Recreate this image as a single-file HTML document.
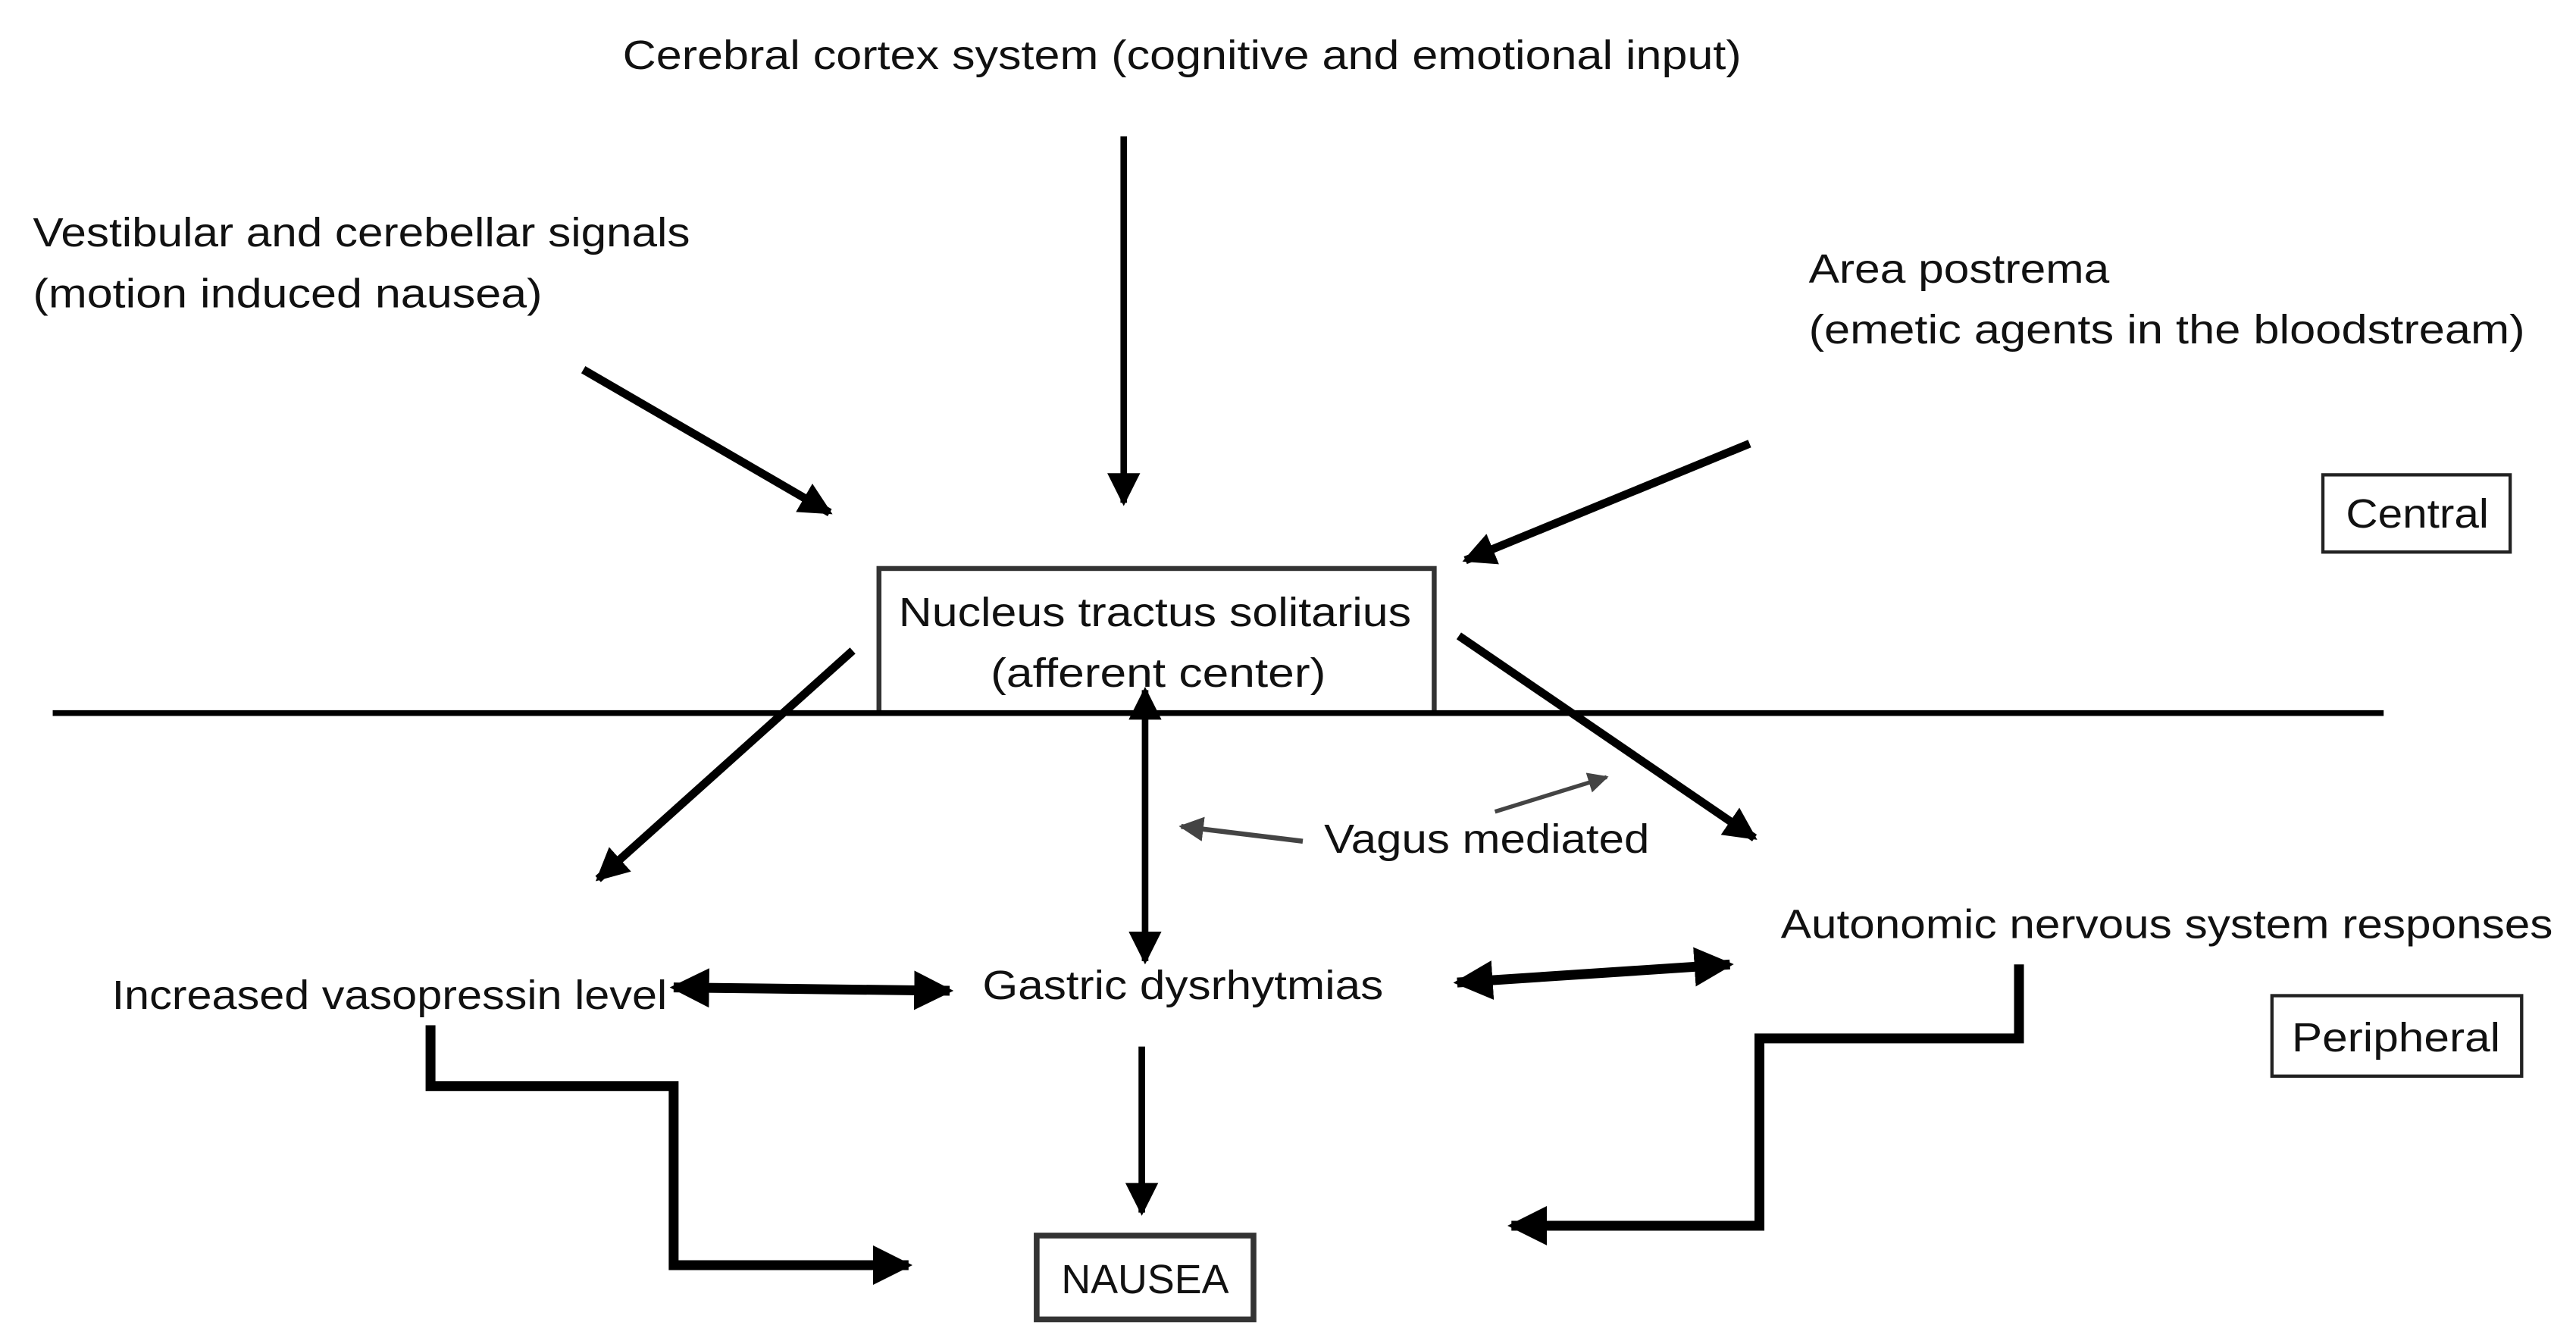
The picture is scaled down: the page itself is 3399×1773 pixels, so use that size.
<!DOCTYPE html>
<html><head><meta charset="utf-8"><style>
html,body{margin:0;padding:0;background:#fff;}
svg{display:block;}
text{font-family:"Liberation Sans",sans-serif;font-size:25px;fill:#111;}
</style></head><body>
<svg width="3399" height="1773" viewBox="0 0 1568 818" xmlns="http://www.w3.org/2000/svg">
<defs>
<marker id="a" viewBox="0 0 10 10" refX="9" refY="5" markerWidth="5" markerHeight="5" orient="auto-start-reverse" markerUnits="strokeWidth"><path d="M0,0 L10,5 L0,10 z" fill="#000"/></marker>
<marker id="b" viewBox="0 0 10 10" refX="9" refY="5" markerWidth="4" markerHeight="4" orient="auto-start-reverse" markerUnits="strokeWidth"><path d="M0,0 L10,5 L0,10 z" fill="#000"/></marker>
<marker id="g" viewBox="0 0 10 10" refX="9" refY="5" markerWidth="5" markerHeight="5" orient="auto" markerUnits="strokeWidth"><path d="M0,0 L10,5 L0,10 z" fill="#444"/></marker>
</defs>

<text x="379" y="42" textLength="681" lengthAdjust="spacingAndGlyphs">Cerebral cortex system (cognitive and emotional input)</text>
<text x="20" y="150" textLength="400" lengthAdjust="spacingAndGlyphs">Vestibular and cerebellar signals</text>
<text x="20" y="187" textLength="310" lengthAdjust="spacingAndGlyphs">(motion induced nausea)</text>
<text x="1101" y="172" textLength="183" lengthAdjust="spacingAndGlyphs">Area postrema</text>
<text x="1101" y="209" textLength="436" lengthAdjust="spacingAndGlyphs">(emetic agents in the bloodstream)</text>

<rect x="1414" y="289" width="114" height="47" fill="none" stroke="#222" stroke-width="2"/>
<text x="1428" y="321" textLength="87" lengthAdjust="spacingAndGlyphs">Central</text>

<rect x="535" y="346" width="338" height="88" fill="none" stroke="#333" stroke-width="3"/>
<text x="547" y="381" textLength="312" lengthAdjust="spacingAndGlyphs">Nucleus tractus solitarius</text>
<text x="603" y="418" textLength="204" lengthAdjust="spacingAndGlyphs">(afferent center)</text>

<line x1="32" y1="434" x2="1451" y2="434" stroke="#000" stroke-width="3.5"/>

<line x1="684" y1="83" x2="684" y2="306" stroke="#000" stroke-width="4" marker-end="url(#a)"/>
<line x1="355" y1="225" x2="505" y2="312" stroke="#000" stroke-width="5" marker-end="url(#b)"/>
<line x1="1065" y1="270" x2="892" y2="341" stroke="#000" stroke-width="5" marker-end="url(#b)"/>
<line x1="519" y1="396" x2="364" y2="535" stroke="#000" stroke-width="5" marker-end="url(#b)"/>
<line x1="888" y1="387" x2="1068" y2="510" stroke="#000" stroke-width="5" marker-end="url(#b)"/>
<line x1="697" y1="420" x2="697" y2="585" stroke="#000" stroke-width="4" marker-start="url(#a)" marker-end="url(#a)"/>

<text x="806" y="519" textLength="198" lengthAdjust="spacingAndGlyphs">Vagus mediated</text>
<line x1="793" y1="512" x2="719" y2="503" stroke="#444" stroke-width="3" marker-end="url(#g)"/>
<line x1="910" y1="494" x2="978" y2="473" stroke="#444" stroke-width="2.5" marker-end="url(#g)"/>

<text x="68" y="614" textLength="338" lengthAdjust="spacingAndGlyphs">Increased vasopressin level</text>
<line x1="410" y1="601" x2="578" y2="603" stroke="#000" stroke-width="6" marker-start="url(#b)" marker-end="url(#b)"/>
<text x="598" y="608" textLength="244" lengthAdjust="spacingAndGlyphs">Gastric dysrhytmias</text>
<line x1="887" y1="598" x2="1053" y2="587" stroke="#000" stroke-width="6" marker-start="url(#b)" marker-end="url(#b)"/>
<text x="1084" y="571" textLength="470" lengthAdjust="spacingAndGlyphs">Autonomic nervous system responses</text>

<rect x="1383" y="606" width="152" height="49" fill="none" stroke="#222" stroke-width="2"/>
<text x="1395" y="640" textLength="127" lengthAdjust="spacingAndGlyphs">Peripheral</text>

<line x1="695" y1="637" x2="695" y2="738" stroke="#000" stroke-width="4" marker-end="url(#a)"/>

<rect x="631" y="752" width="132" height="51" fill="none" stroke="#333" stroke-width="3.5"/>
<text x="646" y="787" textLength="102" lengthAdjust="spacingAndGlyphs">NAUSEA</text>

<polyline points="262,624 262,661 410,661 410,770 553,770" fill="none" stroke="#000" stroke-width="6" marker-end="url(#b)"/>
<polyline points="1229,587 1229,632 1071,632 1071,746 920,746" fill="none" stroke="#000" stroke-width="6" marker-end="url(#b)"/>
</svg>
</body></html>
